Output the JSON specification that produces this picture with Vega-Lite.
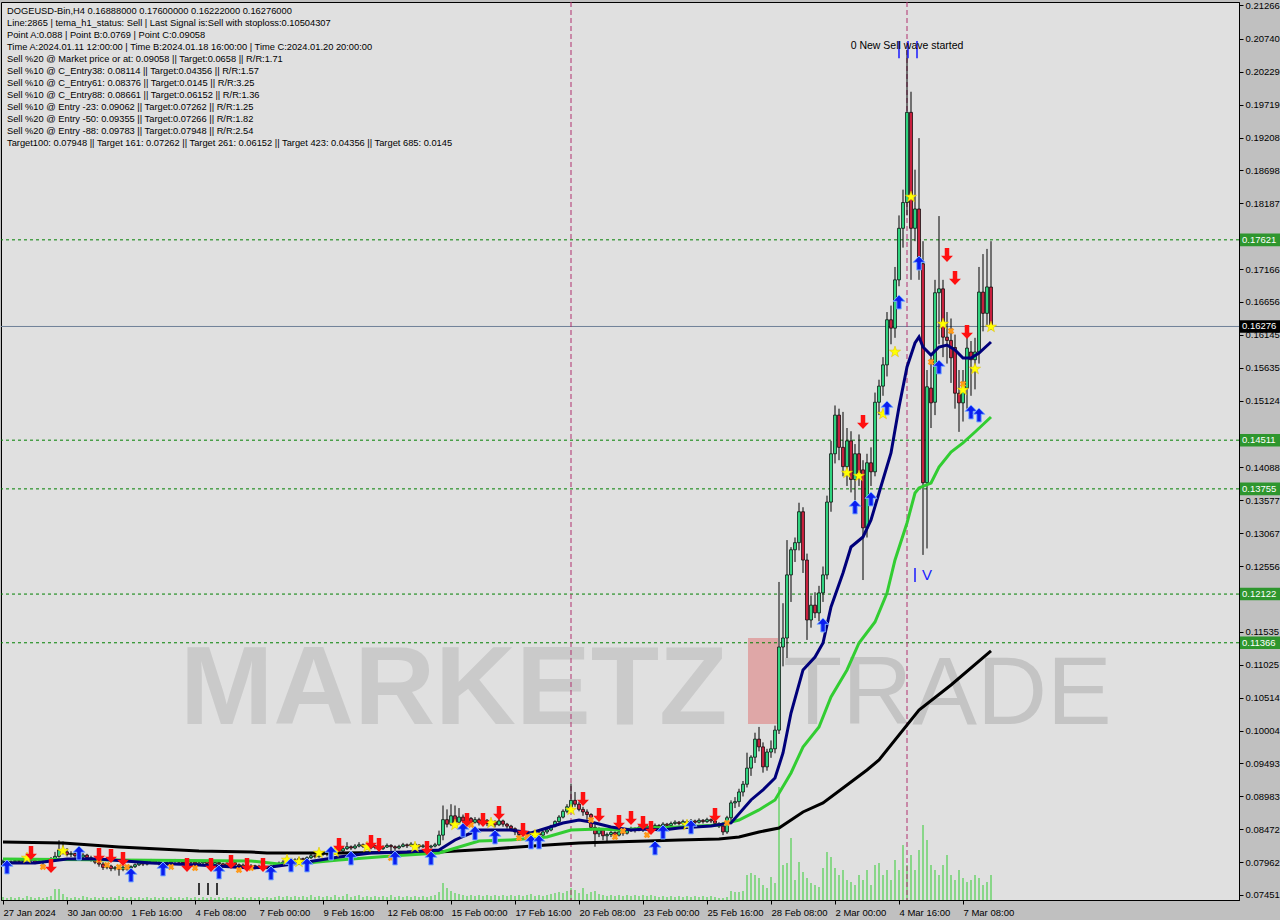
{
"$schema":"https://vega.github.io/schema/vega-lite/v6.json",
"width":1238,"height":898,"autosize":"none",
"padding":{"left":1,"top":2,"right":41,"bottom":20},
"background":"#c0c0c0",
"config":{"view":{"fill":"#e0e0e0","stroke":"#000000","strokeWidth":1},"font":"Liberation Sans"},
"datasets":{
"candles":[
{"i":0,"o":0.0796,"h":0.08,"l":0.0792,"c":0.07975,"v":3},
{"i":1,"o":0.07975,"h":0.08,"l":0.0791,"c":0.0795,"v":2},
{"i":2,"o":0.0795,"h":0.0799,"l":0.0793,"c":0.07968,"v":3},
{"i":3,"o":0.07968,"h":0.0802,"l":0.0795,"c":0.07985,"v":2},
{"i":4,"o":0.07985,"h":0.0801,"l":0.0795,"c":0.07972,"v":3},
{"i":5,"o":0.07972,"h":0.0802,"l":0.0796,"c":0.0799,"v":2},
{"i":6,"o":0.0799,"h":0.0803,"l":0.0797,"c":0.08005,"v":4},
{"i":7,"o":0.08005,"h":0.0802,"l":0.0795,"c":0.07985,"v":3},
{"i":8,"o":0.07985,"h":0.08,"l":0.0793,"c":0.0796,"v":2},
{"i":9,"o":0.0796,"h":0.08,"l":0.0794,"c":0.07978,"v":3},
{"i":10,"o":0.07978,"h":0.0799,"l":0.0792,"c":0.07965,"v":2},
{"i":11,"o":0.07965,"h":0.0801,"l":0.0795,"c":0.0799,"v":3},
{"i":12,"o":0.0799,"h":0.0804,"l":0.0797,"c":0.0801,"v":4},
{"i":13,"o":0.0801,"h":0.0812,"l":0.0799,"c":0.0805,"v":11},
{"i":14,"o":0.0805,"h":0.083,"l":0.0803,"c":0.0815,"v":11},
{"i":15,"o":0.0815,"h":0.0828,"l":0.0808,"c":0.0812,"v":6},
{"i":16,"o":0.0812,"h":0.0818,"l":0.0805,"c":0.0808,"v":3},
{"i":17,"o":0.0808,"h":0.0813,"l":0.0804,"c":0.08095,"v":2},
{"i":18,"o":0.08095,"h":0.0812,"l":0.0803,"c":0.0806,"v":3},
{"i":19,"o":0.0806,"h":0.081,"l":0.0801,"c":0.0804,"v":2},
{"i":20,"o":0.0804,"h":0.081,"l":0.0802,"c":0.0807,"v":4},
{"i":21,"o":0.0807,"h":0.0809,"l":0.08,"c":0.0803,"v":3},
{"i":22,"o":0.0803,"h":0.0806,"l":0.0797,"c":0.08,"v":2},
{"i":23,"o":0.08,"h":0.0802,"l":0.0793,"c":0.0796,"v":3},
{"i":24,"o":0.0796,"h":0.0799,"l":0.0789,"c":0.0793,"v":2},
{"i":25,"o":0.0793,"h":0.0796,"l":0.0784,"c":0.0788,"v":3},
{"i":26,"o":0.0788,"h":0.0793,"l":0.0785,"c":0.079,"v":2},
{"i":27,"o":0.079,"h":0.0792,"l":0.0782,"c":0.0786,"v":3},
{"i":28,"o":0.0786,"h":0.079,"l":0.0783,"c":0.07875,"v":2},
{"i":29,"o":0.07875,"h":0.079,"l":0.0775,"c":0.0785,"v":4},
{"i":30,"o":0.0785,"h":0.0791,"l":0.0782,"c":0.0788,"v":3},
{"i":31,"o":0.0788,"h":0.079,"l":0.0783,"c":0.0787,"v":2},
{"i":32,"o":0.0787,"h":0.0791,"l":0.0784,"c":0.0789,"v":3},
{"i":33,"o":0.0789,"h":0.0794,"l":0.0787,"c":0.0792,"v":2},
{"i":34,"o":0.0792,"h":0.0797,"l":0.079,"c":0.0795,"v":3},
{"i":35,"o":0.0795,"h":0.0797,"l":0.079,"c":0.0793,"v":2},
{"i":36,"o":0.0793,"h":0.0799,"l":0.0791,"c":0.07965,"v":3},
{"i":37,"o":0.07965,"h":0.0801,"l":0.0794,"c":0.0798,"v":2},
{"i":38,"o":0.0798,"h":0.08,"l":0.0793,"c":0.07955,"v":3},
{"i":39,"o":0.07955,"h":0.0798,"l":0.0791,"c":0.0794,"v":2},
{"i":40,"o":0.0794,"h":0.0796,"l":0.0789,"c":0.07925,"v":3},
{"i":41,"o":0.07925,"h":0.0797,"l":0.079,"c":0.0795,"v":2},
{"i":42,"o":0.0795,"h":0.0799,"l":0.0793,"c":0.0797,"v":3},
{"i":43,"o":0.0797,"h":0.0801,"l":0.0795,"c":0.0799,"v":2},
{"i":44,"o":0.0799,"h":0.08,"l":0.0793,"c":0.0796,"v":3},
{"i":45,"o":0.0796,"h":0.0798,"l":0.0792,"c":0.07945,"v":2},
{"i":46,"o":0.07945,"h":0.0799,"l":0.0793,"c":0.07975,"v":3},
{"i":47,"o":0.07975,"h":0.0799,"l":0.0794,"c":0.0796,"v":2},
{"i":48,"o":0.0796,"h":0.0798,"l":0.079,"c":0.0793,"v":3},
{"i":49,"o":0.0793,"h":0.0797,"l":0.0791,"c":0.0795,"v":2},
{"i":50,"o":0.0795,"h":0.0799,"l":0.0793,"c":0.0797,"v":3},
{"i":51,"o":0.0797,"h":0.0798,"l":0.0792,"c":0.0794,"v":2},
{"i":52,"o":0.0794,"h":0.0796,"l":0.079,"c":0.07925,"v":3},
{"i":53,"o":0.07925,"h":0.0798,"l":0.0791,"c":0.07955,"v":2},
{"i":54,"o":0.07955,"h":0.0797,"l":0.0791,"c":0.07935,"v":3},
{"i":55,"o":0.07935,"h":0.0795,"l":0.0788,"c":0.0791,"v":2},
{"i":56,"o":0.0791,"h":0.0796,"l":0.0789,"c":0.07935,"v":3},
{"i":57,"o":0.07935,"h":0.0798,"l":0.0792,"c":0.0795,"v":2},
{"i":58,"o":0.0795,"h":0.0797,"l":0.079,"c":0.0792,"v":3},
{"i":59,"o":0.0792,"h":0.0794,"l":0.0787,"c":0.079,"v":2},
{"i":60,"o":0.079,"h":0.0794,"l":0.0788,"c":0.07915,"v":3},
{"i":61,"o":0.07915,"h":0.0793,"l":0.0786,"c":0.0789,"v":2},
{"i":62,"o":0.0789,"h":0.0793,"l":0.0787,"c":0.07905,"v":3},
{"i":63,"o":0.07905,"h":0.0792,"l":0.0785,"c":0.0788,"v":2},
{"i":64,"o":0.0788,"h":0.0792,"l":0.0786,"c":0.07895,"v":3},
{"i":65,"o":0.07895,"h":0.0791,"l":0.0784,"c":0.0787,"v":2},
{"i":66,"o":0.0787,"h":0.079,"l":0.0785,"c":0.07885,"v":3},
{"i":67,"o":0.07885,"h":0.0792,"l":0.0786,"c":0.079,"v":2},
{"i":68,"o":0.079,"h":0.0794,"l":0.0788,"c":0.0792,"v":3},
{"i":69,"o":0.0792,"h":0.0797,"l":0.079,"c":0.07945,"v":4},
{"i":70,"o":0.07945,"h":0.0799,"l":0.0793,"c":0.0796,"v":3},
{"i":71,"o":0.0796,"h":0.0801,"l":0.0794,"c":0.07985,"v":4},
{"i":72,"o":0.07985,"h":0.08,"l":0.0795,"c":0.0797,"v":3},
{"i":73,"o":0.0797,"h":0.0802,"l":0.0795,"c":0.07995,"v":4},
{"i":74,"o":0.07995,"h":0.0804,"l":0.0798,"c":0.08015,"v":3},
{"i":75,"o":0.08015,"h":0.0803,"l":0.0797,"c":0.08,"v":4},
{"i":76,"o":0.08,"h":0.0805,"l":0.0798,"c":0.0803,"v":3},
{"i":77,"o":0.0803,"h":0.0809,"l":0.0801,"c":0.0806,"v":5},
{"i":78,"o":0.0806,"h":0.0808,"l":0.0802,"c":0.08045,"v":3},
{"i":79,"o":0.08045,"h":0.0811,"l":0.0803,"c":0.0808,"v":4},
{"i":80,"o":0.0808,"h":0.0813,"l":0.0806,"c":0.081,"v":3},
{"i":81,"o":0.081,"h":0.0812,"l":0.0805,"c":0.08085,"v":4},
{"i":82,"o":0.08085,"h":0.0815,"l":0.0807,"c":0.0812,"v":3},
{"i":83,"o":0.0812,"h":0.0818,"l":0.081,"c":0.0815,"v":5},
{"i":84,"o":0.0815,"h":0.0817,"l":0.081,"c":0.08135,"v":3},
{"i":85,"o":0.08135,"h":0.082,"l":0.0811,"c":0.0817,"v":4},
{"i":86,"o":0.0817,"h":0.0827,"l":0.0815,"c":0.082,"v":6},
{"i":87,"o":0.082,"h":0.0822,"l":0.0815,"c":0.0818,"v":3},
{"i":88,"o":0.0818,"h":0.0824,"l":0.0816,"c":0.0821,"v":4},
{"i":89,"o":0.0821,"h":0.0827,"l":0.0819,"c":0.0823,"v":5},
{"i":90,"o":0.0823,"h":0.0825,"l":0.0818,"c":0.08205,"v":3},
{"i":91,"o":0.08205,"h":0.0823,"l":0.0816,"c":0.08185,"v":4},
{"i":92,"o":0.08185,"h":0.0824,"l":0.0816,"c":0.08215,"v":3},
{"i":93,"o":0.08215,"h":0.0823,"l":0.0816,"c":0.0819,"v":4},
{"i":94,"o":0.0819,"h":0.0821,"l":0.0814,"c":0.0817,"v":3},
{"i":95,"o":0.0817,"h":0.0822,"l":0.0815,"c":0.08195,"v":4},
{"i":96,"o":0.08195,"h":0.0825,"l":0.0818,"c":0.0822,"v":3},
{"i":97,"o":0.0822,"h":0.0824,"l":0.0812,"c":0.082,"v":5},
{"i":98,"o":0.082,"h":0.0822,"l":0.0814,"c":0.0818,"v":3},
{"i":99,"o":0.0818,"h":0.0823,"l":0.0816,"c":0.08205,"v":4},
{"i":100,"o":0.08205,"h":0.0826,"l":0.0819,"c":0.0823,"v":3},
{"i":101,"o":0.0823,"h":0.0825,"l":0.0818,"c":0.08215,"v":4},
{"i":102,"o":0.08215,"h":0.0827,"l":0.082,"c":0.0824,"v":3},
{"i":103,"o":0.0824,"h":0.0826,"l":0.082,"c":0.08225,"v":4},
{"i":104,"o":0.08225,"h":0.0824,"l":0.0817,"c":0.082,"v":3},
{"i":105,"o":0.082,"h":0.0824,"l":0.0818,"c":0.08215,"v":4},
{"i":106,"o":0.08215,"h":0.0823,"l":0.0817,"c":0.08195,"v":3},
{"i":107,"o":0.08195,"h":0.0823,"l":0.0817,"c":0.0821,"v":4},
{"i":108,"o":0.0821,"h":0.0826,"l":0.0819,"c":0.0823,"v":5},
{"i":109,"o":0.0823,"h":0.0845,"l":0.0821,"c":0.0838,"v":8},
{"i":110,"o":0.0838,"h":0.0884,"l":0.083,"c":0.0862,"v":17},
{"i":111,"o":0.0862,"h":0.0878,"l":0.085,"c":0.0855,"v":12},
{"i":112,"o":0.0855,"h":0.0886,"l":0.0852,"c":0.0868,"v":9},
{"i":113,"o":0.0868,"h":0.0884,"l":0.0855,"c":0.0858,"v":7},
{"i":114,"o":0.0858,"h":0.088,"l":0.0855,"c":0.0866,"v":6},
{"i":115,"o":0.0866,"h":0.087,"l":0.0856,"c":0.086,"v":5},
{"i":116,"o":0.086,"h":0.0868,"l":0.0857,"c":0.0864,"v":4},
{"i":117,"o":0.0864,"h":0.0866,"l":0.0854,"c":0.0858,"v":5},
{"i":118,"o":0.0858,"h":0.0866,"l":0.0856,"c":0.0862,"v":4},
{"i":119,"o":0.0862,"h":0.0865,"l":0.0853,"c":0.0857,"v":5},
{"i":120,"o":0.0857,"h":0.0864,"l":0.0855,"c":0.0861,"v":4},
{"i":121,"o":0.0861,"h":0.0863,"l":0.0852,"c":0.0856,"v":5},
{"i":122,"o":0.0856,"h":0.0862,"l":0.0853,"c":0.0859,"v":4},
{"i":123,"o":0.0859,"h":0.0861,"l":0.085,"c":0.0854,"v":5},
{"i":124,"o":0.0854,"h":0.0863,"l":0.0852,"c":0.086,"v":4},
{"i":125,"o":0.086,"h":0.0862,"l":0.0851,"c":0.0855,"v":5},
{"i":126,"o":0.0855,"h":0.0857,"l":0.0848,"c":0.0852,"v":4},
{"i":127,"o":0.0852,"h":0.0854,"l":0.0844,"c":0.0848,"v":5},
{"i":128,"o":0.0848,"h":0.085,"l":0.0838,"c":0.0843,"v":4},
{"i":129,"o":0.0843,"h":0.0846,"l":0.0834,"c":0.0839,"v":5},
{"i":130,"o":0.0839,"h":0.0845,"l":0.0836,"c":0.0842,"v":4},
{"i":131,"o":0.0842,"h":0.0844,"l":0.0833,"c":0.0838,"v":5},
{"i":132,"o":0.0838,"h":0.0841,"l":0.0826,"c":0.0836,"v":6},
{"i":133,"o":0.0836,"h":0.0844,"l":0.0834,"c":0.0841,"v":4},
{"i":134,"o":0.0841,"h":0.0843,"l":0.0834,"c":0.0838,"v":5},
{"i":135,"o":0.0838,"h":0.0845,"l":0.0836,"c":0.0843,"v":4},
{"i":136,"o":0.0843,"h":0.0848,"l":0.084,"c":0.0846,"v":5},
{"i":137,"o":0.0846,"h":0.0854,"l":0.0844,"c":0.0852,"v":6},
{"i":138,"o":0.0852,"h":0.0861,"l":0.085,"c":0.0859,"v":7},
{"i":139,"o":0.0859,"h":0.0869,"l":0.0857,"c":0.0866,"v":8},
{"i":140,"o":0.0866,"h":0.0878,"l":0.0864,"c":0.0875,"v":7},
{"i":141,"o":0.0875,"h":0.0886,"l":0.0872,"c":0.0882,"v":9},
{"i":142,"o":0.0882,"h":0.0918,"l":0.088,"c":0.0892,"v":12},
{"i":143,"o":0.0892,"h":0.0905,"l":0.0882,"c":0.0886,"v":10},
{"i":144,"o":0.0886,"h":0.089,"l":0.0875,"c":0.0878,"v":7},
{"i":145,"o":0.0878,"h":0.0882,"l":0.0868,"c":0.0874,"v":12},
{"i":146,"o":0.0874,"h":0.0878,"l":0.0862,"c":0.087,"v":6},
{"i":147,"o":0.087,"h":0.0872,"l":0.0845,"c":0.085,"v":8},
{"i":148,"o":0.085,"h":0.0855,"l":0.082,"c":0.084,"v":9},
{"i":149,"o":0.084,"h":0.085,"l":0.0835,"c":0.0846,"v":6},
{"i":150,"o":0.0846,"h":0.0848,"l":0.083,"c":0.0837,"v":5},
{"i":151,"o":0.0837,"h":0.0842,"l":0.0828,"c":0.0839,"v":4},
{"i":152,"o":0.0839,"h":0.0845,"l":0.0835,"c":0.0842,"v":5},
{"i":153,"o":0.0842,"h":0.0844,"l":0.0833,"c":0.0838,"v":4},
{"i":154,"o":0.0838,"h":0.0846,"l":0.0836,"c":0.0843,"v":5},
{"i":155,"o":0.0843,"h":0.0845,"l":0.0837,"c":0.0841,"v":4},
{"i":156,"o":0.0841,"h":0.0848,"l":0.0839,"c":0.0845,"v":5},
{"i":157,"o":0.0845,"h":0.0851,"l":0.0843,"c":0.0848,"v":4},
{"i":158,"o":0.0848,"h":0.085,"l":0.0842,"c":0.0846,"v":5},
{"i":159,"o":0.0846,"h":0.0853,"l":0.0844,"c":0.085,"v":4},
{"i":160,"o":0.085,"h":0.0852,"l":0.0843,"c":0.0847,"v":5},
{"i":161,"o":0.0847,"h":0.0855,"l":0.0845,"c":0.0852,"v":4},
{"i":162,"o":0.0852,"h":0.0854,"l":0.0846,"c":0.0849,"v":5},
{"i":163,"o":0.0849,"h":0.0856,"l":0.0847,"c":0.0853,"v":4},
{"i":164,"o":0.0853,"h":0.0855,"l":0.0848,"c":0.0851,"v":3},
{"i":165,"o":0.0851,"h":0.0858,"l":0.0849,"c":0.0855,"v":4},
{"i":166,"o":0.0855,"h":0.0857,"l":0.085,"c":0.0853,"v":3},
{"i":167,"o":0.0853,"h":0.0859,"l":0.0851,"c":0.0856,"v":4},
{"i":168,"o":0.0856,"h":0.0861,"l":0.0854,"c":0.0858,"v":3},
{"i":169,"o":0.0858,"h":0.086,"l":0.0853,"c":0.0856,"v":4},
{"i":170,"o":0.0856,"h":0.0862,"l":0.0854,"c":0.0859,"v":3},
{"i":171,"o":0.0859,"h":0.0861,"l":0.0854,"c":0.0857,"v":4},
{"i":172,"o":0.0857,"h":0.0863,"l":0.0855,"c":0.086,"v":3},
{"i":173,"o":0.086,"h":0.0862,"l":0.0855,"c":0.0858,"v":4},
{"i":174,"o":0.0858,"h":0.0864,"l":0.0856,"c":0.0861,"v":3},
{"i":175,"o":0.0861,"h":0.0863,"l":0.0856,"c":0.0859,"v":4},
{"i":176,"o":0.0859,"h":0.0865,"l":0.0857,"c":0.0862,"v":3},
{"i":177,"o":0.0862,"h":0.0864,"l":0.0857,"c":0.086,"v":4},
{"i":178,"o":0.086,"h":0.0862,"l":0.0852,"c":0.0856,"v":3},
{"i":179,"o":0.0856,"h":0.0858,"l":0.0849,"c":0.0852,"v":2},
{"i":180,"o":0.0852,"h":0.0858,"l":0.0838,"c":0.0843,"v":2},
{"i":181,"o":0.0843,"h":0.0868,"l":0.084,"c":0.0865,"v":3},
{"i":182,"o":0.0865,"h":0.0892,"l":0.086,"c":0.0888,"v":9},
{"i":183,"o":0.0888,"h":0.0897,"l":0.088,"c":0.089,"v":8},
{"i":184,"o":0.089,"h":0.091,"l":0.0882,"c":0.0905,"v":8},
{"i":185,"o":0.0905,"h":0.0922,"l":0.0898,"c":0.0917,"v":9},
{"i":186,"o":0.0917,"h":0.0966,"l":0.0912,"c":0.0942,"v":25},
{"i":187,"o":0.0942,"h":0.0962,"l":0.093,"c":0.0959,"v":27},
{"i":188,"o":0.0959,"h":0.0997,"l":0.095,"c":0.0987,"v":25},
{"i":189,"o":0.0987,"h":0.1006,"l":0.0968,"c":0.0975,"v":22},
{"i":190,"o":0.0975,"h":0.0982,"l":0.0935,"c":0.0944,"v":15},
{"i":191,"o":0.0944,"h":0.0972,"l":0.0938,"c":0.0967,"v":12},
{"i":192,"o":0.0967,"h":0.0985,"l":0.0958,"c":0.0972,"v":23},
{"i":193,"o":0.0972,"h":0.1008,"l":0.0965,"c":0.1001,"v":17},
{"i":194,"o":0.1001,"h":0.1231,"l":0.0995,"c":0.113,"v":113},
{"i":195,"o":0.113,"h":0.1198,"l":0.11,"c":0.1144,"v":35},
{"i":196,"o":0.1144,"h":0.1296,"l":0.1113,"c":0.1242,"v":37},
{"i":197,"o":0.1242,"h":0.1285,"l":0.12,"c":0.1281,"v":62},
{"i":198,"o":0.1281,"h":0.13,"l":0.1262,"c":0.1292,"v":20},
{"i":199,"o":0.1292,"h":0.1354,"l":0.128,"c":0.134,"v":38},
{"i":200,"o":0.134,"h":0.1347,"l":0.1245,"c":0.1265,"v":28},
{"i":201,"o":0.1265,"h":0.1275,"l":0.1141,"c":0.1172,"v":22},
{"i":202,"o":0.1172,"h":0.121,"l":0.116,"c":0.1195,"v":17},
{"i":203,"o":0.1195,"h":0.1215,"l":0.1175,"c":0.1183,"v":15},
{"i":204,"o":0.1183,"h":0.1225,"l":0.117,"c":0.1214,"v":13},
{"i":205,"o":0.1214,"h":0.1255,"l":0.12,"c":0.1242,"v":32},
{"i":206,"o":0.1242,"h":0.1365,"l":0.1235,"c":0.1355,"v":48},
{"i":207,"o":0.1355,"h":0.145,"l":0.134,"c":0.143,"v":43},
{"i":208,"o":0.143,"h":0.1505,"l":0.1415,"c":0.149,"v":32},
{"i":209,"o":0.149,"h":0.15,"l":0.142,"c":0.144,"v":25},
{"i":210,"o":0.144,"h":0.1495,"l":0.1395,"c":0.141,"v":30},
{"i":211,"o":0.141,"h":0.147,"l":0.138,"c":0.145,"v":20},
{"i":212,"o":0.145,"h":0.1465,"l":0.137,"c":0.139,"v":18},
{"i":213,"o":0.139,"h":0.1445,"l":0.135,"c":0.143,"v":15},
{"i":214,"o":0.143,"h":0.146,"l":0.138,"c":0.14,"v":25},
{"i":215,"o":0.1405,"h":0.142,"l":0.1234,"c":0.1315,"v":20},
{"i":216,"o":0.1315,"h":0.143,"l":0.13,"c":0.1416,"v":30},
{"i":217,"o":0.1416,"h":0.144,"l":0.138,"c":0.1402,"v":15},
{"i":218,"o":0.1402,"h":0.1525,"l":0.1395,"c":0.151,"v":35},
{"i":219,"o":0.151,"h":0.1545,"l":0.149,"c":0.1535,"v":37},
{"i":220,"o":0.1535,"h":0.158,"l":0.152,"c":0.1568,"v":25},
{"i":221,"o":0.1568,"h":0.165,"l":0.155,"c":0.1638,"v":30},
{"i":222,"o":0.1638,"h":0.166,"l":0.16,"c":0.1625,"v":20},
{"i":223,"o":0.1625,"h":0.172,"l":0.161,"c":0.17,"v":40},
{"i":224,"o":0.17,"h":0.18,"l":0.169,"c":0.178,"v":30},
{"i":225,"o":0.178,"h":0.184,"l":0.175,"c":0.182,"v":55},
{"i":226,"o":0.182,"h":0.2057,"l":0.18,"c":0.196,"v":35},
{"i":227,"o":0.196,"h":0.1992,"l":0.17,"c":0.178,"v":45},
{"i":228,"o":0.178,"h":0.1871,"l":0.176,"c":0.181,"v":30},
{"i":229,"o":0.181,"h":0.192,"l":0.17,"c":0.1725,"v":50},
{"i":230,"o":0.1725,"h":0.176,"l":0.1273,"c":0.1385,"v":75},
{"i":231,"o":0.1385,"h":0.156,"l":0.1283,"c":0.1534,"v":60},
{"i":232,"o":0.1532,"h":0.158,"l":0.147,"c":0.1509,"v":35},
{"i":233,"o":0.151,"h":0.17,"l":0.149,"c":0.168,"v":30},
{"i":234,"o":0.168,"h":0.1799,"l":0.16,"c":0.1686,"v":25},
{"i":235,"o":0.1686,"h":0.17,"l":0.158,"c":0.1611,"v":35},
{"i":236,"o":0.1611,"h":0.165,"l":0.157,"c":0.1606,"v":45},
{"i":237,"o":0.1606,"h":0.164,"l":0.154,"c":0.1579,"v":25},
{"i":238,"o":0.1595,"h":0.1615,"l":0.15,"c":0.1524,"v":20},
{"i":239,"o":0.1524,"h":0.156,"l":0.1464,"c":0.1509,"v":30},
{"i":240,"o":0.1509,"h":0.156,"l":0.148,"c":0.1532,"v":22},
{"i":241,"o":0.1532,"h":0.161,"l":0.15,"c":0.1594,"v":18},
{"i":242,"o":0.1588,"h":0.1605,"l":0.152,"c":0.1576,"v":20},
{"i":243,"o":0.1576,"h":0.161,"l":0.153,"c":0.1588,"v":25},
{"i":244,"o":0.1588,"h":0.172,"l":0.157,"c":0.1681,"v":22},
{"i":245,"o":0.1681,"h":0.174,"l":0.162,"c":0.1648,"v":15},
{"i":246,"o":0.1648,"h":0.1748,"l":0.163,"c":0.1689,"v":18},
{"i":247,"o":0.16888,"h":0.176,"l":0.16222,"c":0.16276,"v":25}
],
"navy":[
{"i":0,"p":0.07948},{"i":8,"p":0.07948},{"i":16,"p":0.0801},{"i":24,"p":0.0801},{"i":37,"p":0.07948},{"i":49,"p":0.07917},{"i":62,"p":0.0787},{"i":67,"p":0.07886},{"i":76,"p":0.07963},{"i":84,"p":0.08041},{"i":92,"p":0.08103},{"i":101,"p":0.08119},{"i":109,"p":0.0815},{"i":113,"p":0.08305},{"i":117,"p":0.08413},{"i":119,"p":0.0846},{"i":127,"p":0.0846},{"i":132,"p":0.08413},{"i":136,"p":0.08491},{"i":140,"p":0.08569},{"i":144,"p":0.08615},{"i":147,"p":0.08584},{"i":152,"p":0.08507},{"i":157,"p":0.0846},{"i":161,"p":0.08475},{"i":165,"p":0.0846},{"i":169,"p":0.08491},{"i":177,"p":0.08522},{"i":182,"p":0.08569},{"i":187,"p":0.08926},{"i":190,"p":0.09081},{"i":193,"p":0.09267},{"i":195,"p":0.09655},{"i":197,"p":0.10276},{"i":200,"p":0.10944},{"i":203,"p":0.11145},{"i":205,"p":0.11363},{"i":207,"p":0.11922},{"i":210,"p":0.12449},{"i":212,"p":0.12853},{"i":215,"p":0.13008},{"i":217,"p":0.13272},{"i":219,"p":0.13691},{"i":222,"p":0.14312},{"i":224,"p":0.15026},{"i":226,"p":0.15647},{"i":228,"p":0.1602},{"i":229,"p":0.16113},{"i":230,"p":0.15957},{"i":232,"p":0.15833},{"i":234,"p":0.15957},{"i":236,"p":0.15988},{"i":238,"p":0.15911},{"i":240,"p":0.15787},{"i":242,"p":0.15787},{"i":244,"p":0.15864},{"i":247,"p":0.16035}
],
"green":[
{"i":0,"p":0.0801},{"i":29,"p":0.07994},{"i":62,"p":0.07979},{"i":69,"p":0.07932},{"i":76,"p":0.07948},{"i":84,"p":0.07994},{"i":97,"p":0.08056},{"i":109,"p":0.08103},{"i":119,"p":0.08289},{"i":127,"p":0.08305},{"i":136,"p":0.08351},{"i":142,"p":0.0846},{"i":149,"p":0.08475},{"i":154,"p":0.0846},{"i":161,"p":0.08491},{"i":169,"p":0.08507},{"i":179,"p":0.08538},{"i":184,"p":0.08615},{"i":189,"p":0.08771},{"i":193,"p":0.08926},{"i":197,"p":0.09345},{"i":200,"p":0.09748},{"i":204,"p":0.10059},{"i":207,"p":0.10524},{"i":211,"p":0.10944},{"i":214,"p":0.11363},{"i":218,"p":0.11689},{"i":221,"p":0.12139},{"i":223,"p":0.12651},{"i":226,"p":0.13226},{"i":228,"p":0.13691},{"i":229,"p":0.13769},{"i":232,"p":0.13846},{"i":234,"p":0.14095},{"i":237,"p":0.14328},{"i":240,"p":0.14468},{"i":243,"p":0.14638},{"i":247,"p":0.14871}
],
"black":[
{"i":0,"p":0.08274},{"i":15,"p":0.08258},{"i":29,"p":0.08196},{"i":49,"p":0.08134},{"i":62,"p":0.08119},{"i":66,"p":0.08103},{"i":84,"p":0.08103},{"i":109,"p":0.08119},{"i":122,"p":0.08165},{"i":136,"p":0.08227},{"i":144,"p":0.08258},{"i":152,"p":0.08274},{"i":161,"p":0.08289},{"i":169,"p":0.08305},{"i":179,"p":0.0832},{"i":184,"p":0.08351},{"i":189,"p":0.08429},{"i":194,"p":0.08491},{"i":200,"p":0.08739},{"i":205,"p":0.08879},{"i":211,"p":0.09158},{"i":216,"p":0.09391},{"i":219,"p":0.09547},{"i":229,"p":0.10323},{"i":237,"p":0.10711},{"i":247,"p":0.11239}
],
"levels":[
{"p":0.17621,"k":"t"},{"p":0.14511,"k":"t"},{"p":0.13755,"k":"t"},{"p":0.12122,"k":"t"},{"p":0.11366,"k":"t"},{"p":0.16276,"k":"c"}
],
"vlines":[{"i":142},{"i":226}],
"bars":[
{"i":224,"p":0.2044,"p2":0.20708,"k":"bl"},{"i":226.25,"p":0.2044,"p2":0.20708,"k":"bl"},{"i":228.5,"p":0.2044,"p2":0.20708,"k":"bl"},{"i":228,"p":0.1231,"p2":0.12527,"k":"bl"},
{"i":49,"p":0.07451,"p2":0.07637,"k":"bk"},{"i":51.25,"p":0.07451,"p2":0.07637,"k":"bk"},{"i":53.5,"p":0.07451,"p2":0.07637,"k":"bk"}
],
"header":[{"t":["DOGEUSD-Bin,H4  0.16888000 0.17600000 0.16222000 0.16276000","Line:2865 | tema_h1_status: Sell | Last Signal is:Sell with stoploss:0.10504307","Point A:0.088 | Point B:0.0769 | Point C:0.09058","Time A:2024.01.11 12:00:00 | Time B:2024.01.18 16:00:00 | Time C:2024.01.20 20:00:00","Sell %20 @ Market price or at: 0.09058 || Target:0.0658 || R/R:1.71","Sell %10 @ C_Entry38: 0.08114 || Target:0.04356 || R/R:1.57","Sell %10 @ C_Entry61: 0.08376 || Target:0.0145 || R/R:3.25","Sell %10 @ C_Entry88: 0.08661 || Target:0.06152 || R/R:1.36","Sell %10 @ Entry -23: 0.09062 || Target:0.07262 || R/R:1.25","Sell %20 @ Entry -50: 0.09355 || Target:0.07266 || R/R:1.82","Sell %20 @ Entry -88: 0.09783 || Target:0.07948 || R/R:2.54","Target100: 0.07948 || Target 161: 0.07262 || Target 261: 0.06152 || Target 423: 0.04356 || Target 685: 0.0145"]}],
"sig":[
{"i":1,"p":0.07886,"k":"b"},{"i":19,"p":0.08103,"k":"b"},{"i":32,"p":0.07761,"k":"b"},{"i":40,"p":0.07855,"k":"b"},{"i":54,"p":0.07808,"k":"b"},{"i":67,"p":0.07793,"k":"b"},{"i":72,"p":0.07917,"k":"b"},{"i":76,"p":0.07917,"k":"b"},{"i":82,"p":0.08103,"k":"b"},{"i":87,"p":0.08025,"k":"b"},{"i":98,"p":0.08025,"k":"b"},{"i":107,"p":0.08025,"k":"b"},{"i":115,"p":0.0846,"k":"b"},{"i":118,"p":0.08413,"k":"b"},{"i":123,"p":0.08351,"k":"b"},{"i":132,"p":0.08274,"k":"b"},{"i":134,"p":0.08274,"k":"b"},{"i":163,"p":0.08181,"k":"b"},{"i":165,"p":0.08429,"k":"b"},{"i":172,"p":0.08507,"k":"b"},{"i":205,"p":0.11642,"k":"b"},{"i":213,"p":0.13474,"k":"b"},{"i":217,"p":0.13598,"k":"b"},{"i":221,"p":0.15011,"k":"b"},{"i":224,"p":0.16656,"k":"b"},{"i":229,"p":0.17261,"k":"b"},{"i":234,"p":0.15647,"k":"b"},{"i":242,"p":0.14948,"k":"b"},{"i":244,"p":0.14902,"k":"b"},
{"i":7,"p":0.08103,"k":"s"},{"i":12,"p":0.07901,"k":"s"},{"i":24,"p":0.08072,"k":"s"},{"i":27,"p":0.08056,"k":"s"},{"i":30,"p":0.0801,"k":"s"},{"i":46,"p":0.07917,"k":"s"},{"i":52,"p":0.07917,"k":"s"},{"i":57,"p":0.07963,"k":"s"},{"i":61,"p":0.07917,"k":"s"},{"i":65,"p":0.07917,"k":"s"},{"i":84,"p":0.08227,"k":"s"},{"i":92,"p":0.08274,"k":"s"},{"i":94,"p":0.08227,"k":"s"},{"i":106,"p":0.08181,"k":"s"},{"i":116,"p":0.08615,"k":"s"},{"i":120,"p":0.08615,"k":"s"},{"i":124,"p":0.08724,"k":"s"},{"i":130,"p":0.0846,"k":"s"},{"i":145,"p":0.08941,"k":"s"},{"i":149,"p":0.08693,"k":"s"},{"i":154,"p":0.08584,"k":"s"},{"i":157,"p":0.08646,"k":"s"},{"i":160,"p":0.08569,"k":"s"},{"i":162,"p":0.08491,"k":"s"},{"i":178,"p":0.08693,"k":"s"},{"i":215,"p":0.14793,"k":"s"},{"i":236,"p":0.17386,"k":"s"},{"i":238,"p":0.17029,"k":"s"},{"i":241,"p":0.1619,"k":"s"},
{"i":6,"p":0.08025,"k":"st"},{"i":15,"p":0.08134,"k":"st"},{"i":71,"p":0.07994,"k":"st"},{"i":74,"p":0.07963,"k":"st"},{"i":79,"p":0.08103,"k":"st"},{"i":83,"p":0.08119,"k":"st"},{"i":91,"p":0.08196,"k":"st"},{"i":103,"p":0.08196,"k":"st"},{"i":113,"p":0.08538,"k":"st"},{"i":122,"p":0.08569,"k":"st"},{"i":133,"p":0.08382,"k":"st"},{"i":142,"p":0.0877,"k":"st"},{"i":171,"p":0.08538,"k":"st"},{"i":211,"p":0.14002,"k":"st"},{"i":214,"p":0.13955,"k":"st"},{"i":220,"p":0.14917,"k":"st"},{"i":223,"p":0.1588,"k":"st"},{"i":227,"p":0.18286,"k":"st"},{"i":235,"p":0.16315,"k":"st"},{"i":240,"p":0.1529,"k":"st"},{"i":243,"p":0.15616,"k":"st"},{"i":247,"p":0.16268,"k":"st"},
{"i":10,"p":0.07886,"k":"x"},{"i":24,"p":0.07994,"k":"x"},{"i":26,"p":0.07917,"k":"x"},{"i":29,"p":0.07886,"k":"x"},{"i":31,"p":0.07886,"k":"x"},{"i":42,"p":0.07886,"k":"x"},{"i":48,"p":0.0787,"k":"x"},{"i":59,"p":0.07839,"k":"x"},{"i":62,"p":0.0787,"k":"x"},{"i":97,"p":0.08025,"k":"x"},{"i":117,"p":0.08538,"k":"x"},{"i":129,"p":0.08336,"k":"x"},{"i":131,"p":0.08351,"k":"x"},{"i":147,"p":0.08615,"k":"x"},{"i":153,"p":0.08351,"k":"x"},{"i":155,"p":0.08444,"k":"x"},{"i":161,"p":0.08382,"k":"x"},{"i":181,"p":0.08569,"k":"x"},{"i":232,"p":0.15725,"k":"x"},{"i":237,"p":0.16206,"k":"x"},{"i":240,"p":0.15383,"k":"x"},
{"i":231,"p":0.12418,"k":"bl","t":"V"}
]
},
"layer":[
{"data":{"name":"candles"},"mark":{"type":"rule","color":"#33cc33","strokeWidth":1},
 "encoding":{
  "x":{"field":"i","type":"quantitative","scale":{"domain":[-0.5,309],"nice":false,"zero":false,"padding":0},
   "axis":{"orient":"bottom","values":[0,16,32,48,64,80,96,112,128,144,160,176,192,208,224,240],"tickCount":40,
    "labelExpr":"['27 Jan 2024','30 Jan 00:00','1 Feb 16:00','4 Feb 08:00','7 Feb 00:00','9 Feb 16:00','12 Feb 08:00','15 Feb 00:00','17 Feb 16:00','20 Feb 08:00','23 Feb 00:00','25 Feb 16:00','28 Feb 08:00','2 Mar 00:00','4 Mar 16:00','7 Mar 08:00'][round(datum.value/16)]",
    "labelAlign":"left","labelBaseline":"top","labelPadding":3,"tickSize":4,"tickColor":"#000000","domainColor":"#000000","labelColor":"#000000","labelFont":"Liberation Sans","labelFontSize":9.5,"grid":false,"title":null,"labelOverlap":false,"labelFlush":false}},
  "y":{"field":"v","type":"quantitative","scale":{"domain":[0,898],"nice":false,"zero":true},"axis":null},
  "y2":{"datum":0}}},
{"layer":[
 {"data":{"values":[{}]},"mark":{"type":"text","font":"Liberation Sans","fontWeight":900,"fontSize":112,"align":"left","baseline":"alphabetic","color":"#cacaca"},
  "encoding":{"x":{"datum":44.25,"type":"quantitative"},"y":{"datum":0.10105,"type":"quantitative","scale":{"domain":[0.07373,0.21313],"nice":false,"zero":false},
   "axis":{"orient":"right","values":[0.21266,0.2074,0.20229,0.19719,0.19208,0.18698,0.18187,0.17166,0.16656,0.16145,0.15635,0.15124,0.14088,0.13577,0.13067,0.12556,0.11535,0.11025,0.10514,0.10004,0.09493,0.08983,0.08472,0.07962,0.07451],"tickCount":60,
    "format":".5f","labelAlign":"left","labelPadding":2,"tickSize":4,"tickColor":"#000000","domainColor":"#000000","labelColor":"#000000","labelFont":"Liberation Sans","labelFontSize":9.5,"grid":false,"title":null,"labelOverlap":false,"labelFlush":false}},
   "text":{"value":"MARKETZ"}}},
 {"data":{"values":[{}]},"mark":{"type":"rect","color":"#dfa7a7"},
  "encoding":{"x":{"datum":186.25,"type":"quantitative"},"x2":{"datum":193.75},"y":{"datum":0.1144,"type":"quantitative"},"y2":{"datum":0.10105}}},
 {"data":{"values":[{}]},"mark":{"type":"text","font":"Liberation Sans","fontWeight":"normal","fontSize":97,"align":"left","baseline":"alphabetic","color":"#c4c4c4"},
  "encoding":{"x":{"datum":195,"type":"quantitative"},"y":{"datum":0.10105,"type":"quantitative"},"text":{"value":"TRADE"}}},
 {"data":{"name":"levels"},"transform":[{"filter":"datum.k=='t'"}],"mark":{"type":"rule","color":"#008000","strokeWidth":1,"strokeDash":[3,3]},
  "encoding":{"y":{"field":"p","type":"quantitative"}}},
 {"data":{"name":"levels"},"transform":[{"filter":"datum.k=='c'"}],"mark":{"type":"rule","color":"#6f8098","strokeWidth":1},
  "encoding":{"y":{"field":"p","type":"quantitative"}}},
 {"data":{"name":"vlines"},"mark":{"type":"rule","color":"#b0306e","strokeWidth":1,"strokeDash":[5,3]},
  "encoding":{"x":{"field":"i","type":"quantitative"}}},
 {"data":{"name":"candles"},"mark":{"type":"rule","color":"#000000","strokeWidth":1},
  "encoding":{"x":{"field":"i","type":"quantitative"},"y":{"field":"l","type":"quantitative"},"y2":{"field":"h"}}},
 {"data":{"name":"candles"},"mark":{"type":"bar","width":3,"stroke":"#000000","strokeWidth":0.7},
  "encoding":{"x":{"field":"i","type":"quantitative"},"y":{"field":"o","type":"quantitative"},"y2":{"field":"c"},
   "fill":{"condition":{"test":"datum.c>=datum.o","value":"#2fd37f"},"value":"#c8203e"}}},
 {"data":{"name":"black"},"mark":{"type":"line","color":"#000000","strokeWidth":3},
  "encoding":{"x":{"field":"i","type":"quantitative"},"y":{"field":"p","type":"quantitative"}}},
 {"data":{"name":"green"},"mark":{"type":"line","color":"#32cd32","strokeWidth":3},
  "encoding":{"x":{"field":"i","type":"quantitative"},"y":{"field":"p","type":"quantitative"}}},
 {"data":{"name":"navy"},"mark":{"type":"line","color":"#00007a","strokeWidth":3},
  "encoding":{"x":{"field":"i","type":"quantitative"},"y":{"field":"p","type":"quantitative"}}},
 {"data":{"name":"sig"},"transform":[{"filter":"datum.k=='x'"}],"mark":{"type":"point","shape":"cross","angle":45,"filled":true,"color":"#ff9a1a","size":45,"opacity":1},
  "encoding":{"x":{"field":"i","type":"quantitative"},"y":{"field":"p","type":"quantitative"}}},
 {"data":{"name":"sig"},"transform":[{"filter":"datum.k=='st'"}],"mark":{"type":"point","shape":"M0,-1L0.235,-0.324L0.951,-0.309L0.38,0.124L0.588,0.809L0,0.4L-0.588,0.809L-0.38,0.124L-0.951,-0.309L-0.235,-0.324Z","filled":true,"fill":"#ffff00","stroke":"#d8b800","strokeWidth":0.5,"size":140,"opacity":1},
  "encoding":{"x":{"field":"i","type":"quantitative"},"y":{"field":"p","type":"quantitative"}}},
 {"data":{"name":"sig"},"transform":[{"filter":"datum.k=='b'"}],"mark":{"type":"point","shape":"M0,-1L0.85,-0.1L0.32,-0.1L0.32,1L-0.32,1L-0.32,-0.1L-0.85,-0.1Z","filled":true,"fill":"#0a1ef0","stroke":"#7fb0ff","strokeWidth":1,"size":196,"opacity":1},
  "encoding":{"x":{"field":"i","type":"quantitative"},"y":{"field":"p","type":"quantitative"}}},
 {"data":{"name":"sig"},"transform":[{"filter":"datum.k=='s'"}],"mark":{"type":"point","shape":"M0,1L0.85,0.1L0.32,0.1L0.32,-1L-0.32,-1L-0.32,0.1L-0.85,0.1Z","filled":true,"fill":"#ff1010","strokeWidth":0,"size":196,"opacity":1},
  "encoding":{"x":{"field":"i","type":"quantitative"},"y":{"field":"p","type":"quantitative"}}},
 {"data":{"name":"bars"},"transform":[{"filter":"datum.k=='bl'"}],"mark":{"type":"rule","color":"#1a1aff","strokeWidth":1.5},
  "encoding":{"x":{"field":"i","type":"quantitative"},"y":{"field":"p","type":"quantitative"},"y2":{"field":"p2"}}},
 {"data":{"name":"bars"},"transform":[{"filter":"datum.k=='bk'"}],"mark":{"type":"rule","color":"#000000","strokeWidth":1.5},
  "encoding":{"x":{"field":"i","type":"quantitative"},"y":{"field":"p","type":"quantitative"},"y2":{"field":"p2"}}},
 {"data":{"name":"sig"},"transform":[{"filter":"datum.k=='bl'"}],"mark":{"type":"text","font":"Liberation Sans","fontSize":15,"color":"#1a1aff","align":"center","baseline":"middle"},
  "encoding":{"x":{"field":"i","type":"quantitative"},"y":{"field":"p","type":"quantitative"},"text":{"field":"t"}}},
 {"data":{"values":[{}]},"mark":{"type":"text","font":"Liberation Sans","fontSize":10.5,"color":"#000000","align":"center","baseline":"middle"},
  "encoding":{"x":{"datum":226,"type":"quantitative"},"y":{"datum":0.2063,"type":"quantitative"},"text":{"value":"0 New Sell wave started"}}},
 {"data":{"name":"header"},"mark":{"type":"text","font":"Liberation Sans","fontSize":9.3,"color":"#000000","align":"left","baseline":"top","lineHeight":12},
  "encoding":{"x":{"datum":1,"type":"quantitative"},"y":{"datum":0.21235,"type":"quantitative"},"text":{"field":"t"}}},
 {"data":{"name":"levels"},"mark":{"type":"point","shape":"M-1,-0.3L1,-0.3L1,0.3L-1,0.3Z","filled":true,"size":1764,"opacity":1,"strokeWidth":0},
  "encoding":{"x":{"datum":314.5,"type":"quantitative"},"y":{"field":"p","type":"quantitative"},
   "fill":{"condition":{"test":"datum.k=='c'","value":"#000000"},"value":"#2e962e"}}},
 {"data":{"name":"levels"},"mark":{"type":"text","font":"Liberation Sans","fontSize":9.5,"align":"left","baseline":"middle","color":"#ffffff"},
  "encoding":{"x":{"datum":309.75,"type":"quantitative"},"y":{"field":"p","type":"quantitative"},"text":{"field":"p","format":".5f"}}}
]}
],
"resolve":{"scale":{"y":"independent"}}
}
